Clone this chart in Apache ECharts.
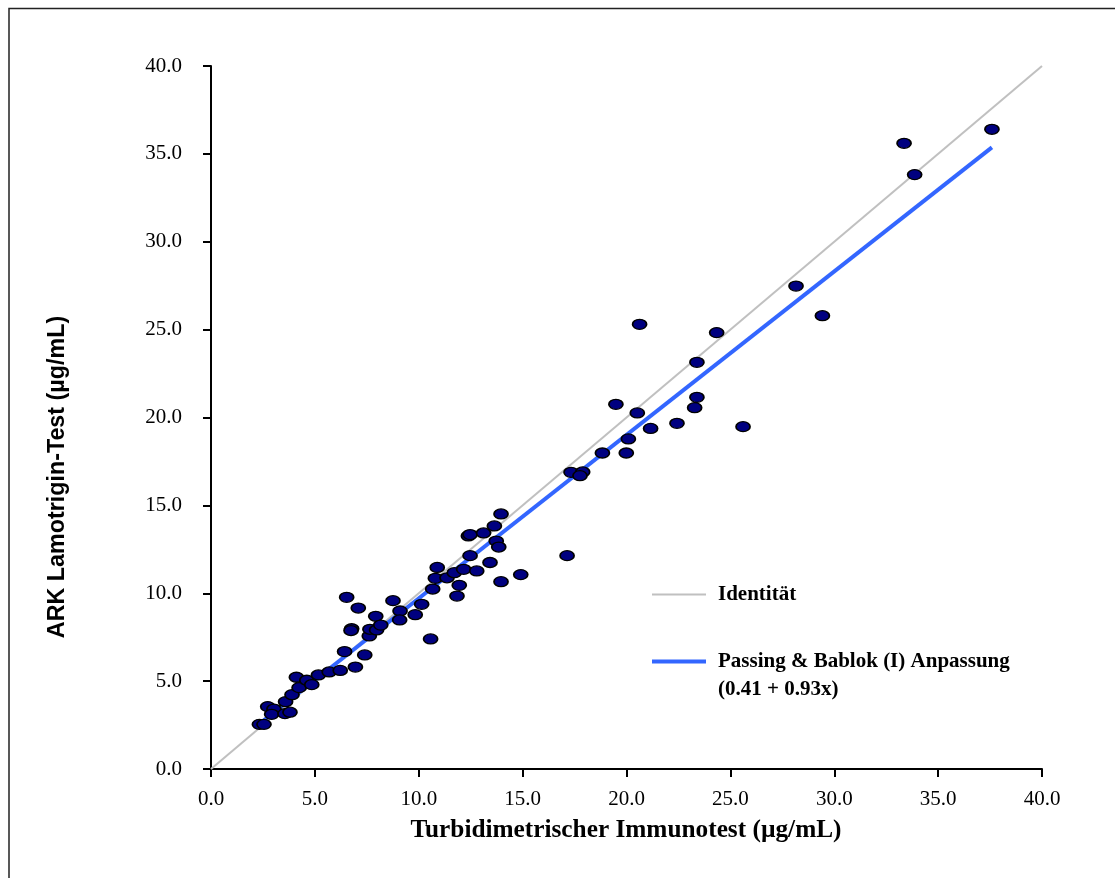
<!DOCTYPE html>
<html>
<head>
<meta charset="utf-8">
<script src="https://cdn.jsdelivr.net/npm/echarts@6/dist/echarts.min.js"></script>
<style>
html,body{margin:0;padding:0;background:#fff;}
#chart{width:1115px;height:878px;}
</style>
</head>
<body>
<div id="chart"></div>
<script>
// Data
const turbidimetricX = [2.33,2.55,2.73,3.03,2.92,3.56,3.80,3.59,3.90,4.24,4.11,4.61,4.85,5.17,5.69,6.22,6.95,7.40,6.43,6.77,6.74,6.53,7.09,7.62,7.65,7.97,7.93,8.17,8.76,9.10,9.08,9.83,10.14,10.57,10.67,10.80,10.89,11.36,11.71,12.16,11.95,11.84,12.79,12.47,13.43,13.96,14.91,17.14,12.39,12.47,13.12,13.64,13.73,13.85,13.96,17.33,17.89,17.76,18.84,19.99,20.09,19.49,20.52,20.63,21.16,22.43,23.28,23.39,23.39,24.34,25.61,28.16,29.43,33.36,33.87,37.59];
const arkY = [2.54,2.54,3.55,3.41,3.11,3.15,3.23,3.83,4.23,4.63,5.22,5.05,4.80,5.35,5.52,5.61,5.80,6.49,6.68,7.98,7.88,9.77,9.16,7.57,7.95,7.91,8.69,8.19,9.58,8.99,8.48,8.78,9.37,7.40,10.24,10.85,11.47,10.88,11.17,11.36,10.45,9.84,11.27,12.14,11.75,10.66,11.06,12.14,13.26,13.34,13.43,13.83,12.97,12.63,14.51,16.88,16.90,16.69,17.98,17.98,18.78,20.75,20.26,25.30,19.38,19.67,20.56,21.15,23.14,24.83,19.48,27.48,25.79,35.60,33.82,36.40];
const identityX = [0, 40];
const identityY = [0, 40];
const fitIntercept = 0.41;
const fitSlope = 0.93;
const axisTicks = [0,5,10,15,20,25,30,35,40];

const xTitle = 'Turbidimetrischer Immunotest (µg/mL)';
const yTitle = 'ARK Lamotrigin-Test (µg/mL)';
const identityName = 'Identität';
const fitName = 'Passing & Bablok (I) Anpassung';
const fitEquation = '(0.41 + 0.93x)';

const scatterData = turbidimetricX.map((x, i) => [x, arkY[i]]);
const identityData = identityX.map((x, i) => [x, identityY[i]]);
const xMin = Math.min(...turbidimetricX), xMax = Math.max(...turbidimetricX);
const fitData = [[xMin, fitIntercept + fitSlope * xMin], [xMax, fitIntercept + fitSlope * xMax]];

const serif = 'Liberation Serif, Times New Roman, serif';
const sans = 'Liberation Sans, Arial, sans-serif';

const axisCommon = {
  type: 'value',
  min: axisTicks[0],
  max: axisTicks[axisTicks.length - 1],
  interval: axisTicks[1] - axisTicks[0],
  splitLine: {show: false},
  axisLine: {show: true, onZero: false, lineStyle: {color: '#000', width: 2}},
  axisTick: {show: true, inside: false, length: 8, lineStyle: {color: '#000', width: 2}},
  axisLabel: {color: '#000', fontFamily: serif, fontSize: 21, formatter: v => v.toFixed(1)}
};

const chart = echarts.init(document.getElementById('chart'), null, {renderer: 'canvas'});
chart.setOption({
  animation: false,
  backgroundColor: '#fff',
  grid: {left: 211, right: 73, top: 66, bottom: 109, containLabel: false},
  xAxis: Object.assign({}, axisCommon, {axisLabel: Object.assign({}, axisCommon.axisLabel, {margin: 20})}),
  yAxis: Object.assign({}, axisCommon, {axisLabel: Object.assign({}, axisCommon.axisLabel, {margin: 29})}),
  legend: [
    {data: [identityName], left: 652, top: 584, padding: 0, orient: 'vertical', selectedMode: false,
     icon: 'rect', itemWidth: 54, itemHeight: 2, itemGap: 0,
     textStyle: {fontFamily: serif, fontSize: 21, fontWeight: 'bold', color: '#000', padding: [0,0,0,7]}},
    {data: [fitName], left: 652, top: 651, padding: 0, orient: 'vertical', selectedMode: false,
     icon: 'rect', itemWidth: 54, itemHeight: 4, itemGap: 0,
     textStyle: {fontFamily: serif, fontSize: 21, fontWeight: 'bold', color: '#000', padding: [0,0,0,7]}}
  ],
  graphic: [
    {type: 'polyline', silent: true, shape: {points: [[9, 878], [9, 8.5], [1115, 8.5]]},
     style: {stroke: '#222', lineWidth: 1.5, fill: null}},
    {type: 'text', left: 718, top: 679, silent: true,
     style: {text: fitEquation, font: 'bold 21px ' + serif, fill: '#000'}},
    {type: 'text', x: 626, y: 830, silent: true,
     style: {text: xTitle, font: 'bold 25.3px ' + serif, fill: '#000', align: 'center', verticalAlign: 'middle'}},
    {type: 'text', x: 58, y: 477, rotation: Math.PI / 2, silent: true,
     style: {text: yTitle, font: 'bold 23.3px ' + sans, fill: '#000', align: 'center', verticalAlign: 'middle'}}
  ],
  series: [
    {name: identityName, type: 'line', data: identityData, symbol: 'none', silent: true,
     lineStyle: {color: '#c0c0c0', width: 2}, itemStyle: {color: '#c0c0c0'}, z: 2},
    {name: fitName, type: 'line', data: fitData, symbol: 'none', silent: true,
     lineStyle: {color: '#3366ff', width: 4}, itemStyle: {color: '#3366ff'}, z: 3},
    {name: 'Proben', type: 'scatter', data: scatterData, symbol: 'circle', symbolSize: [14, 10],
     itemStyle: {color: '#000080', borderColor: '#000', borderWidth: 1.5, opacity: 1}, z: 4}
  ]
});
</script>
</body>
</html>
